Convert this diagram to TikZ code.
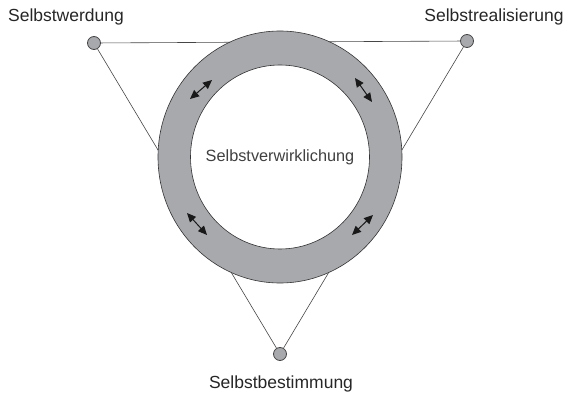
\documentclass[tikz,border=0pt]{standalone}
\usepackage{fontspec}
\setmainfont{Liberation Sans}
\usetikzlibrary{arrows.meta}
\definecolor{ringgray}{RGB}{168,169,173}
\definecolor{linegray}{RGB}{70,70,70}
\begin{document}
\begin{tikzpicture}[x=1pt,y=-1pt,
  dot/.style={circle,draw=linegray,fill=ringgray,line width=0.8pt,minimum size=13pt,inner sep=0pt},
  lbl/.style={font=\fontsize{17.5}{20}\selectfont,text=black!85,inner sep=0pt},
  conn/.style={draw=linegray,line width=0.6pt},
  dbl/.style={{Triangle[length=9pt,width=8pt]}-{Triangle[length=9pt,width=8pt]},line width=1pt,black!90}
]
\useasboundingbox (0,0) rectangle (567,395);
\node[dot] (wd) at (94,43) {};
\node[dot] (rl) at (467,41) {};
\node[dot] (bs) at (280,354) {};
\node[lbl] (twd) at (66,17) {Selbstwerdung};
\node[lbl] (trl) at (494,17) {Selbstrealisierung};
\node[lbl] (tbs) at (281,384) {Selbstbestimmung};
\draw[conn] (wd) -- (rl);
\draw[conn] (wd) -- (bs);
\draw[conn] (rl) -- (bs);
\fill[ringgray,even odd rule,draw=black!80,line width=0.6pt]
  (280,157) ellipse [x radius=122,y radius=126]
  (280,157) ellipse [x radius=89.5,y radius=92];
\node[font=\fontsize{16.3}{19}\selectfont,text=black!75,inner sep=0pt] (ctr) at (280,157) {Selbstverwirklichung};
\coordinate (a1) at (190,99); \coordinate (a2) at (212,80);
\coordinate (b1) at (355,78); \coordinate (b2) at (372,102);
\coordinate (c1) at (187,213); \coordinate (c2) at (207,235);
\coordinate (d1) at (352,235); \coordinate (d2) at (373,215);
\draw[dbl] (a1) -- (a2);
\draw[dbl] (b1) -- (b2);
\draw[dbl] (c1) -- (c2);
\draw[dbl] (d1) -- (d2);
\end{tikzpicture}
\end{document}
